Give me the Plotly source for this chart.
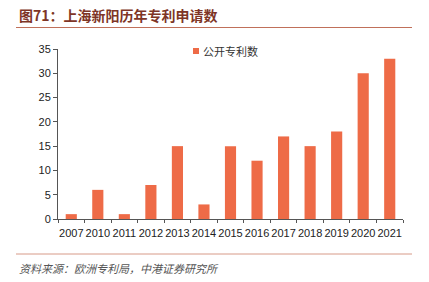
import plotly.graph_objects as go

years = ["2007", "2010", "2011", "2012", "2013", "2014", "2015",
         "2016", "2017", "2018", "2019", "2020", "2021"]
patents = [1, 6, 1, 7, 15, 3, 15, 12, 17, 15, 18, 30, 33]
y_ticks = [0, 5, 10, 15, 20, 25, 30, 35]
series_name = "公开专利数"
bar_color = "#EE6B47"

W, H = 429, 282
L, R, T, B = 58, 26, 49, 63
PW, PH = W - L - R, H - T - B


def px(x):
    return (x - L) / PW


def py(y):
    return (H - B - y) / PH


fig = go.Figure(go.Bar(
    x=years, y=patents, name=series_name,
    marker=dict(color=bar_color, line=dict(width=0)),
    showlegend=False,
))

fig.update_layout(
    width=W, height=H,
    margin=dict(l=L, r=R, t=T, b=B, pad=0),
    paper_bgcolor="white", plot_bgcolor="white",
    bargap=0.58,
    font=dict(family="Liberation Sans, Arial, sans-serif", size=11, color="#222"),
    xaxis=dict(type="category", showline=True, linecolor="#555", linewidth=1,
               ticks="outside", ticklen=3, tickcolor="#555", tickson="boundaries",
               tickangle=0, ticklabelstandoff=4, showgrid=False,
               tickfont=dict(size=11, color="#222")),
    yaxis=dict(range=[0, 35], tickvals=y_ticks, showline=True, linecolor="#555",
               linewidth=1, ticks="outside", ticklen=4, tickcolor="#555",
               showgrid=False, zeroline=False, tickfont=dict(size=11, color="#222")),
    shapes=[
        dict(type="line", xref="paper", yref="paper", x0=px(16), x1=px(412),
             y0=py(27.5), y1=py(27.5), line=dict(color="#C0705A", width=1)),
        dict(type="line", xref="paper", yref="paper", x0=px(16), x1=px(412),
             y0=py(254), y1=py(254), line=dict(color="#D79A88", width=1)),
        # legend key
        dict(type="rect", xref="paper", yref="paper", x0=px(193), x1=px(199),
             y0=py(54), y1=py(48), fillcolor=bar_color, line=dict(width=0)),
    ],
    annotations=[
        dict(text=series_name, xref="paper", yref="paper",
             x=px(201), y=py(51), xanchor="left", yanchor="middle", showarrow=False,
             font=dict(family="Noto Sans CJK SC", size=11, color="#333")),
        dict(text="<b>图71：上海新阳历年专利申请数</b>", xref="paper", yref="paper",
             x=px(17), y=py(15), xanchor="left", yanchor="middle", showarrow=False,
             font=dict(family="Noto Sans CJK SC", size=14, color="#7E3526")),
        dict(text="<i>资料来源：欧洲专利局，中港证券研究所</i>", xref="paper", yref="paper",
             x=px(17), y=py(268), xanchor="left", yanchor="middle", showarrow=False,
             font=dict(family="Noto Sans CJK SC", size=11, color="#555")),
    ],
)

fig.write_html("out.html")
